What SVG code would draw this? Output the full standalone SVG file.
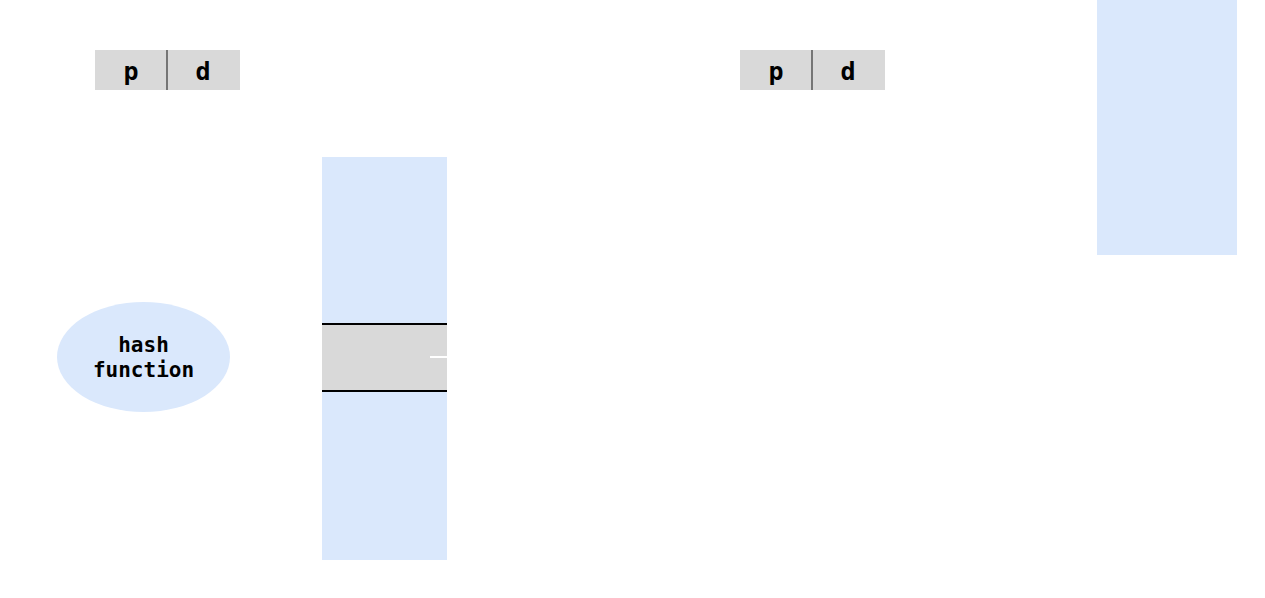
<svg xmlns="http://www.w3.org/2000/svg" width="1265" height="598" viewBox="0 0 1265 598">
<style>
.cell{fill:#d9d9d9;stroke:none}
.div{stroke:#333;stroke-width:1.2}
.blue{fill:#dae8fc;stroke:none}
.t{font-family:"DejaVu Sans Mono",monospace;font-weight:bold;fill:#000;text-anchor:middle}
.pd{font-size:25px}
.hf{font-size:21px}
</style>
<rect width="1265" height="598" fill="#fff"/>
<g id="addr1">
<rect class="cell" x="95" y="50" width="145" height="40"/>
<line class="div" x1="167" y1="50" x2="167" y2="90"/>
<text class="t pd" x="131" y="80">p</text>
<text class="t pd" x="203" y="80">d</text>
</g>
<g id="hash">
<ellipse class="blue" cx="143.5" cy="357" rx="86.5" ry="55"/>
<text class="t hf" x="143.5" y="352">hash</text>
<text class="t hf" x="143.5" y="377">function</text>
</g>
<g id="table">
<rect class="blue" x="322" y="157" width="125" height="403"/>
<rect class="cell" x="322" y="324" width="125" height="67"/>
<line x1="322" y1="324" x2="447" y2="324" stroke="#000" stroke-width="2"/>
<line x1="322" y1="391" x2="447" y2="391" stroke="#000" stroke-width="2"/>
</g>
<g id="addr2">
<rect class="cell" x="740" y="50" width="145" height="40"/>
<line class="div" x1="812" y1="50" x2="812" y2="90"/>
<text class="t pd" x="776" y="80">p</text>
<text class="t pd" x="848" y="80">d</text>
</g>
<g id="memory">
<rect class="blue" x="1097" y="0" width="140" height="255"/>
</g>
<g id="connectors">
<line x1="430" y1="357" x2="447" y2="357" stroke="#fff" stroke-width="2"/>
</g>
</svg>
